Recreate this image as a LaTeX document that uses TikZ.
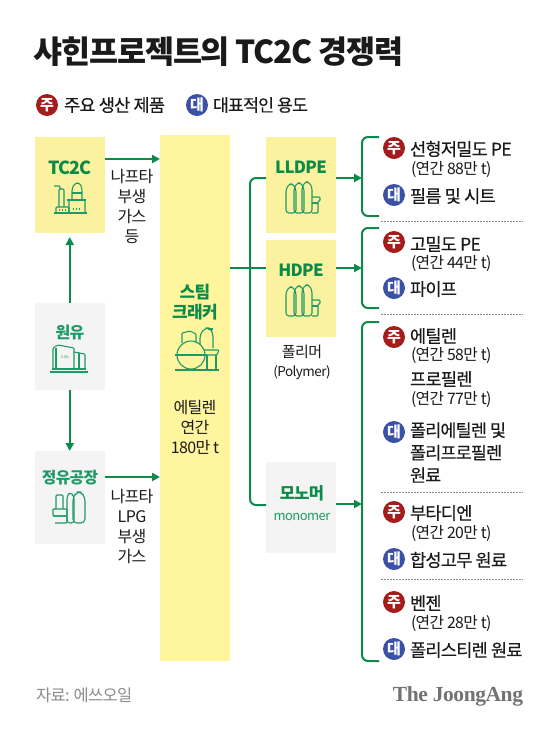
\documentclass[tikz,border=0pt]{standalone}
\usepackage{fontspec}
\setmainfont{Noto Sans CJK KR}[LetterSpace=-4]
\newfontfamily\medkr{Noto Sans CJK KR}[LetterSpace=-4.5,FakeBold=0.25]
\newcommand\boldkr{\bfseries}
\newfontfamily\serifjjf{Liberation Serif}[LetterSpace=-2]
\newcommand\serifjj{\serifjjf\bfseries}
\usetikzlibrary{arrows.meta}
\definecolor{gr}{HTML}{0B8A4A}
\definecolor{gi}{HTML}{1E9A68}
\definecolor{yb}{HTML}{FFF59D}
\definecolor{yc}{HTML}{FBF29F}
\definecolor{gb}{HTML}{F4F4F4}
\definecolor{rd}{HTML}{A51C1C}
\definecolor{bl}{HTML}{3B51A8}
\definecolor{ink}{HTML}{1A1A1A}
\tikzset{
 x=1pt,y=-1pt,
 every node/.style={inner sep=0pt,outer sep=0pt,text=ink},
 ybox/.style={fill=yc,draw=none,anchor=north west,minimum width=69.5pt},
 gbox/.style={fill=gb,draw=none,anchor=north west,minimum width=69.5pt},
 link/.style={draw=gr,line width=2pt},
 arr/.style={link,-{Triangle[length=8pt,width=8pt]},shorten >=0pt},
 brk/.style={draw=gr,line width=2pt,rounded corners=6pt},
 dotline/.style={draw=black!45,line width=.6pt,dash pattern=on 1.5pt off 1.5pt},
 zu/.style={circle,fill=rd,minimum size=22pt,text=white,font=\boldkr\fontsize{15}{15}\selectfont},
 dae/.style={circle,fill=bl,minimum size=22pt,text=white,font=\boldkr\fontsize{15}{15}\selectfont},
 head/.style={anchor=west,yshift=-1pt,font=\medkr\fontsize{17.6}{20}\selectfont},
 headb/.style={anchor=west,yshift=-1pt,align=left,font=\medkr\fontsize{17.4}{22.5}\selectfont},
 sub/.style={anchor=west,yshift=-1.5pt,font=\fontsize{15.8}{18}\selectfont},
 lab/.style={align=center,font=\fontsize{16}{20}\selectfont},
 gt/.style={text=gr,font=\boldkr\fontsize{16}{20}\selectfont,align=center},
 ic/.style={draw=gi,line width=1.1pt,line join=round,rounded corners=1pt},
 bottles/.pic={
  \draw[ic,rounded corners=3pt] (0,31)--(0,7)--(3,2)--(7,2)--(10,7)--(10,31)--cycle;
  \draw[ic,rounded corners=3pt] (8,31)--(8,6)--(11,1)--(15,1)--(18,6)--(18,31)--cycle;
  \draw[ic,rounded corners=3pt] (16,31)--(16,5)--(19,0)--(23,0)--(26,5)--(26,31)--cycle;
  \draw[ic] (26,15)--(34,15)--(34,19)--(32,19)--(32,31)--(26,31);
  \draw[ic] (26,21)--(32,21);
 },
 plant/.pic={
  \draw[ic] (0,30)--(33,30);
  \draw[ic] (2,30)--(2,24)--(15,24)--(15,30);
  \draw[ic] (5,24)--(5,6)--(10,6)--(10,24);
  \draw[ic] (0,3)--(6,3)--(6,6);
  \draw[ic] (15,30)--(15,17)--(31,17)--(31,30);
  \draw[ic,rounded corners=3pt] (18,17)--(18,5)--(21,0)--(26,0)--(28,5)--(28,17);
  \draw[ic] (13,17)--(32,17);
  \draw[ic] (18,10)--(28,10);
  \draw[ic,dotted] (5,27)--(12,27);
  \draw[ic,dotted] (19,26)--(28,26);
 },
 tank/.pic={
  \draw[ic] (0,27)--(38,27);
  \draw[ic] (2,24)--(36,24);
  \draw[ic] (3,24)--(3,3)--(8,0)--(24,3)--(24,24);
  \draw[ic] (24,7)--(35,9)--(35,24);
  \draw[ic] (6,3)--(6,24);
  \draw[ic] (29,8)--(29,24);
  \node[text=gi,font=\fontsize{3.5}{4}\selectfont] at (15,12) {S-OIL};
 },
 refinery/.pic={
  \draw[ic] (0,17)--(14,17)--(14,24)--(0,24)--(0,17);
  \draw[ic] (0,24)--(14,24)--(14,31)--(2,31);
  \draw[ic] (3,17)--(3,3)--(10,3)--(10,17);
  \draw[ic,rounded corners=3pt] (14,31)--(14,4)--(17,0)--(21,4)--(21,31)--cycle;
  \draw[ic,rounded corners=4pt] (20,31)--(20,5)--(24,0)--(28,0)--(32,5)--(32,31)--cycle;
 },
 cracker/.pic={
  \draw[ic] (-1,42)--(43,42);
  \draw[ic] (15,27) circle[radius=14pt];
  \draw[ic] (-1,27)--(31,27);
  \draw[ic] (6,15)--(6,5)--(14,3)--(20,6)--(20,15);
  \draw[ic,rounded corners=4pt] (24,16)--(24,6)--(29,0)--(34,0)--(37,5)--(37,20);
  \draw[ic] (28,22)--(43,22)--(41,27)--(30,27);
  \draw[ic] (31,27)--(31,42);
  \draw[ic] (40,27)--(40,42);
  \draw[ic] (32,1)--(37,1);
 },
}
\begin{document}
\begin{tikzpicture}
\useasboundingbox[fill=white] (0,0) rectangle (559,732);
% title
\node[anchor=west,font=\boldkr\fontsize{31.6}{32}\selectfont] (title) at (34,52) {샤힌프로젝트의 TC2C 경쟁력};
% legend
\node[zu] (lz) at (47,105) {주};
\node[anchor=west,font=\medkr\fontsize{17.6}{20}\selectfont] (lzt) at (64,105) {주요 생산 제품};
\node[dae] (ld) at (197,105) {대};
\node[anchor=west,font=\medkr\fontsize{17.2}{20}\selectfont] (ldt) at (213,105) {대표적인 용도};
% boxes
\node[ybox,minimum height=96pt] (tc) at (35,137) {};
\node[gbox,minimum height=87pt] (oil) at (35,303) {};
\node[gbox,minimum height=93pt] (ref) at (35,451) {};
\node[fill=yb,anchor=north west,minimum width=70pt,minimum height=526pt] (ck) at (160,135) {};
\node[ybox,minimum height=96pt] (ll) at (266,137) {};
\node[ybox,minimum height=97pt] (hd) at (266,240) {};
\node[gbox,minimum height=91pt] (mo) at (266,462) {};
% box text
\node[gt,font=\boldkr\fontsize{18}{20}\selectfont] (tct) at (70,168) {TC2C};
\pic at (54,183) {plant};
\node[gt,text=gi] (oilt) at (70,332) {원유};
\pic at (50,345) {tank};
\node[gt,text=gi,font=\boldkr\fontsize{15.8}{20}\selectfont] (reft) at (70,478) {정유공장};
\pic at (53,492) {refinery};
\node[gt,font=\boldkr\fontsize{17}{20}\selectfont] (ckt) at (195,302) {스팀\\크래커};
\pic at (176,328) {cracker};
\node[lab] (ckl) at (195,427) {에틸렌\\연간\\180만 t};
\node[gt,font=\boldkr\fontsize{16.8}{20}\selectfont] (llt) at (301,167) {LLDPE};
\pic at (286,182) {bottles};
\node[gt,font=\boldkr\fontsize{16.8}{20}\selectfont] (hdt) at (301,270) {HDPE};
\pic at (286,285) {bottles};
\node[lab,font=\fontsize{15}{19}\selectfont] (pol) at (302,362.5) {폴리머\\{\fontsize{13.5}{19}\selectfont (Polymer)}};
\node[gt,font=\boldkr\fontsize{16.5}{20}\selectfont] (mot) at (302,493) {모노머};
\node[text=gi,font=\fontsize{13}{16}\selectfont] (mol) at (302,517) {monomer};
% side labels
\node[lab] (l1) at (132,206) {나프타\\부생\\가스\\등};
\node[lab] (l2) at (132,526) {나프타\\LPG\\부생\\가스};
% arrows
\draw[arr] (tc.east |- 0,159) -- (ck.west |- 0,159);
\draw[arr] (ref.east |- 0,477) -- (ck.west |- 0,477);
\draw[arr] (oil.north) -- ([yshift=-4pt]tc.south);
\draw[arr] (oil.south) -- (ref.north);
% tree
\coordinate (jn) at (250,268);
\draw[link] (ck.east |- jn) -- (hd.west |- jn);
\draw[brk] (ll.west |- 0,178) -- (250,178) -- (250,505) -- (mo.west |- 0,505);
\coordinate (b1) at (362,178);
\coordinate (b2) at (362,268);
\coordinate (b3) at (362,504);
\draw[arr] (ll.east |- b1) -- (b1);
\draw[arr] (hd.east |- b2) -- (b2);
\draw[arr] (mo.east |- b3) -- (b3);
% brackets
\draw[brk] (379,137) -- (362,137) -- (362,216) -- (379,216);
\draw[brk] (379,228) -- (362,228) -- (362,308) -- (379,308);
\draw[brk] (379,322) -- (362,322) -- (362,661) -- (379,661);
% dashed
\draw[dotline] (381,221) -- (523,221);
\draw[dotline] (381,314) -- (523,314);
\draw[dotline] (381,492) -- (523,492);
\draw[dotline] (381,579) -- (523,579);
% group 1
\node[zu] (z1) at (394,148) {주};
\node[head] (z1a) at (410,148) {선형저밀도 PE};
\node[sub] (z1b) at (411,168) {(연간 88만 t)};
\node[dae] (d1) at (394,195) {대};
\node[head] (d1a) at (410,195) {필름 및 시트};
% group 2
\node[zu] (z2) at (394,242) {주};
\node[head] (z2a) at (410,243) {고밀도 PE};
\node[sub] (z2b) at (411,262) {(연간 44만 t)};
\node[dae] (d2) at (394,288) {대};
\node[head] (d2a) at (410,288) {파이프};
% group 3
\node[zu] (z3) at (394,337) {주};
\node[head] (z3a) at (410,335) {에틸렌};
\node[sub] (z3b) at (411,354) {(연간 58만 t)};
\node[head] (z3c) at (410,378) {프로필렌};
\node[sub] (z3d) at (411,398) {(연간 77만 t)};
\node[dae] (d3) at (394,432) {대};
\node[headb] (d3a) at (410,451.5) {폴리에틸렌 및\\폴리프로필렌\\원료};
% group 4
\node[zu] (z4) at (394,512) {주};
\node[head] (z4a) at (410,512) {부타디엔};
\node[sub] (z4b) at (411,532) {(연간 20만 t)};
\node[dae] (d4) at (394,559) {대};
\node[head] (d4a) at (410,559) {합성고무 원료};
% group 5
\node[zu] (z5) at (394,602) {주};
\node[head] (z5a) at (410,602) {벤젠};
\node[sub] (z5b) at (411,622) {(연간 28만 t)};
\node[dae] (d5) at (394,649) {대};
\node[head] (d5a) at (410,649) {폴리스티렌 원료};
% footer
\node[anchor=west,text=black!45,font=\fontsize{16.5}{20}\selectfont] (src) at (36,695) {자료: 에쓰오일};
\node[anchor=east,text=black!55,font=\serifjj\fontsize{21.5}{22}\selectfont] (jj) at (523,696) {The JoongAng};
\end{tikzpicture}
\end{document}
